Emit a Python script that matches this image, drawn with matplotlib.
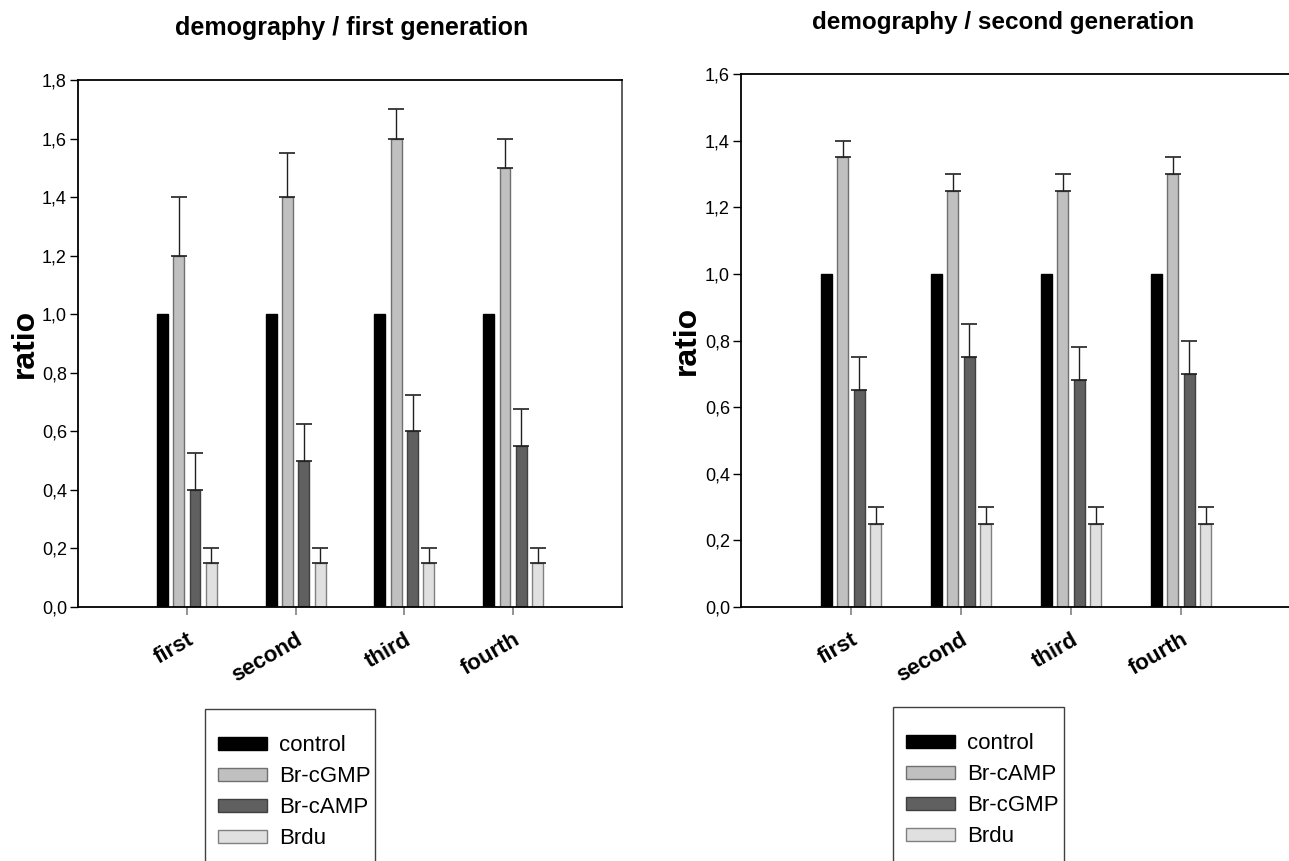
import numpy as np
import matplotlib
matplotlib.use('Agg')
import matplotlib.pyplot as plt
from matplotlib.patches import Patch, Rectangle

plt.rcParams['font.family'] = ['Liberation Sans', 'DejaVu Sans']

generations = ['first', 'second', 'third', 'fourth']

# left panel: demography / first generation
left_labels = ['control', 'Br-cGMP', 'Br-cAMP', 'Brdu']
left_values = [
    [1.0, 1.0, 1.0, 1.0],
    [1.2, 1.4, 1.6, 1.5],
    [0.4, 0.5, 0.6, 0.55],
    [0.15, 0.15, 0.15, 0.15],
]
left_errors = [
    [0.0, 0.0, 0.0, 0.0],
    [0.2, 0.15, 0.1, 0.1],
    [0.125, 0.125, 0.125, 0.125],
    [0.05, 0.05, 0.05, 0.05],
]

# right panel: demography / second generation
right_labels = ['control', 'Br-cAMP', 'Br-cGMP', 'Brdu']
right_values = [
    [1.0, 1.0, 1.0, 1.0],
    [1.35, 1.25, 1.25, 1.3],
    [0.65, 0.75, 0.68, 0.7],
    [0.25, 0.25, 0.25, 0.25],
]
right_errors = [
    [0.0, 0.0, 0.0, 0.0],
    [0.05, 0.05, 0.05, 0.05],
    [0.1, 0.1, 0.1, 0.1],
    [0.05, 0.05, 0.05, 0.05],
]

bar_colors = ['#000000', '#c0c0c0', '#606060', '#e0e0e0']
edge_colors = ['#000000', '#707070', '#404040', '#808080']

W, H = 1289, 861
fig = plt.figure(figsize=(W / 100, H / 100), dpi=100)


def px_box(x0, y0, x1, y1):
    # pixel box (top-left origin) -> figure fraction rect
    return [x0 / W, 1 - y1 / H, (x1 - x0) / W, (y1 - y0) / H]


def draw_panel(ax, values, errors, ymax):
    x = np.arange(1, len(generations) + 1)
    width = 0.1
    step = 0.15
    for i in range(len(values)):
        xs = x + (i - 1.5) * step
        ax.bar(xs, values[i], width=width, color=bar_colors[i],
               edgecolor=edge_colors[i], linewidth=1.0, zorder=2)
        if any(e > 0 for e in errors[i]):
            ax.errorbar(xs, values[i], yerr=[np.zeros(len(xs)), errors[i]],
                        fmt='none', ecolor='#202020', elinewidth=1.0,
                        capsize=6, capthick=1.2, zorder=3)
    ax.set_xlim(0, 5)
    ax.set_ylim(0, ymax)
    ticks = np.arange(0, ymax + 0.001, 0.2)
    ax.set_yticks(ticks)
    ax.set_yticklabels([('%.1f' % t).replace('.', ',') for t in ticks], fontsize=13)
    ax.set_xticks(x)
    ax.set_xticklabels(generations, fontsize=16, fontweight='bold', rotation=30,
                       ha='right', va='top', rotation_mode='anchor')
    ax.tick_params(axis='y', direction='out', length=6, width=1, pad=2)
    ax.tick_params(axis='x', direction='out', length=6, width=1.2, color='#808080', pad=10)
    for s in ax.spines.values():
        s.set_linewidth(1.3)
    ax.spines['right'].set_color('#505050')
    ax.set_ylabel('ratio', fontsize=23, fontweight='bold')
    return ax


ax1 = fig.add_axes(px_box(78, 80, 622, 607))
draw_panel(ax1, left_values, left_errors, 1.8)
ax1.yaxis.set_label_coords(-0.07, 0.5)
fig.text(352 / W, 1 - 28 / H, 'demography / first generation', fontsize=18,
         fontweight='bold', ha='center', va='center')

ax2 = fig.add_axes(px_box(741, 74, 1291, 607))
draw_panel(ax2, right_values, right_errors, 1.6)
ax2.yaxis.set_label_coords(-0.072, 0.5)
fig.text(1003 / W, 1 - 22 / H, 'demography / second generation', fontsize=17.5,
         fontweight='bold', ha='center', va='center')


def draw_legend(labels, box, entry_y0):
    x0, y0, x1 = box
    frame = Rectangle((x0 / W, -0.05), (x1 - x0) / W, 1 - y0 / H + 0.05,
                      transform=fig.transFigure, facecolor='white',
                      edgecolor='#404040', linewidth=1.0)
    fig.patches.append(frame)
    handles = [Patch(facecolor=bar_colors[i], edgecolor=edge_colors[i], linewidth=1.0)
               for i in range(len(labels))]
    fig.legend(handles, labels, loc='upper left',
               bbox_to_anchor=((x0 + 2) / W, 1 - entry_y0 / H),
               frameon=False, fontsize=16, handlelength=2.2, handleheight=0.55,
               handletextpad=0.55, labelspacing=0.45, borderpad=0.0)


draw_legend(left_labels, (205, 709, 375), 724)
draw_legend(right_labels, (893, 707, 1064), 722)

fig.savefig('out.png', dpi=100)
